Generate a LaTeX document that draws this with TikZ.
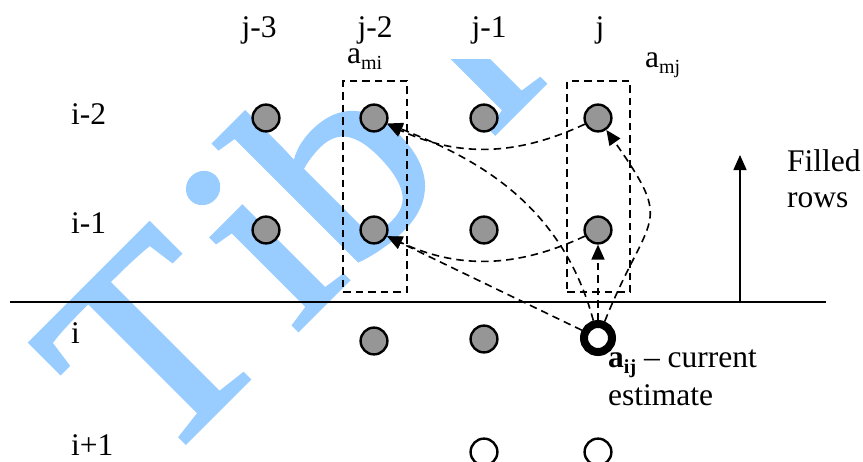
\documentclass[tikz,border=0pt]{standalone}
\usepackage{fontspec}
\setmainfont{Liberation Serif}
\newfontfamily\wmfont[FakeBold=1.5]{Liberation Serif}
\usetikzlibrary{arrows.meta}
\definecolor{wmblue}{RGB}{153,204,255}
\definecolor{dotgray}{RGB}{150,150,150}
\newcommand{\lowidx}[1]{\raisebox{-0.2em}{\fontsize{20}{20}\selectfont #1}}
\newcommand{\wmglyph}[1]{\wmfont\fontsize{275}{275}\selectfont\scalebox{1.06}[1]{#1}}
\begin{document}
\begin{tikzpicture}[x=1pt,y=1pt,
  dot/.style={circle,draw=black,line width=2.4pt,fill=dotgray,minimum size=26.8pt,inner sep=0pt},
  opendot/.style={circle,draw=black,line width=2.4pt,fill=white,minimum size=26.8pt,inner sep=0pt},
  curdot/.style={circle,draw=black,line width=8pt,fill=white,minimum size=28pt,inner sep=0pt},
  lbl/.style={font=\fontsize{31.5}{36}\selectfont,inner sep=0pt},
  dashline/.style={dash pattern=on 7.5pt off 5pt,line width=1.6pt},
  dep/.style={dashline,-{Triangle[length=15pt,width=13pt]}},
  dbox/.style={draw,dashline,inner sep=0pt},
  solidarrow/.style={line width=1.6pt,-{Triangle[length=15pt,width=13pt]}},
  wm/.style={anchor=base west,rotate=45,inner sep=0pt,text=wmblue},
]
\useasboundingbox (0,0) rectangle (863,-461);
% watermark
\begin{scope}
\clip (0,-59) rectangle (863,-461);
\node[wm] (wmT) at (154.2,-473.8) {\wmglyph{T}};
\node[wm] (wmI) at (294.2,-333.8) {\wmglyph{i}};
\node[wm] (wmB) at (349.4,-278.6) {\wmglyph{b}};
\node[wm] (wmJ) at (490.8,-137.3) {\wmglyph{i}};
\end{scope}
% dashed boxes
\node[dbox,minimum width=64pt,minimum height=211pt] (boxmi) at (375,-186.5) {};
\node[dbox,minimum width=63pt,minimum height=211pt] (boxmj) at (598.5,-186.5) {};
% separator line and filled rows arrow
\coordinate (hl) at (10,-302);
\coordinate (hr) at (826,-302);
\draw[line width=1.6pt] (hl) -- (hr);
\coordinate (fa) at (740,-302);
\coordinate (fb) at (740,-155);
\draw[solidarrow] (fa) -- (fb);
% dots
\node[dot] (m2j3) at (266,-118) {};
\node[dot] (m2j2) at (374,-118) {};
\node[dot] (m2j1) at (484,-118) {};
\node[dot] (m2j0) at (598,-118) {};
\node[dot] (m1j3) at (266,-230) {};
\node[dot] (m1j2) at (374,-230) {};
\node[dot] (m1j1) at (484,-230) {};
\node[dot] (m1j0) at (598,-230) {};
\node[dot] (z0j2) at (374,-341) {};
\node[dot] (z0j1) at (484,-339) {};
\node[curdot] (aij) at (598,-338) {};
\node[opendot] (p1j1) at (484,-452) {};
\node[opendot] (p1j0) at (598,-452) {};
% dependency arrows
\draw[dep] (aij) -- (m1j0);
\draw[dep] (aij) to[out=68,in=-55,looseness=1.6] (m2j0);
\draw[dep] (m2j0) to[out=205,in=-25] (m2j2);
\draw[dep] (m1j0) to[out=205,in=-25] (m1j2);
\draw[dep] (aij) -- (m1j2);
\draw[dep] (aij) to[out=105,in=-22,out distance=130pt,in distance=80pt] (m2j2);
% column labels
\node[lbl,anchor=base] (cj3) at (259,-37) {j-3};
\node[lbl,anchor=base] (cj2) at (375,-37) {j-2};
\node[lbl,anchor=base] (cj1) at (489,-37) {j-1};
\node[lbl,anchor=base] (cj0) at (600,-37) {j};
\node[lbl,anchor=base west] (lmi) at (347,-63) {a\lowidx{mi}};
\node[lbl,anchor=base west] (lmj) at (645,-67) {a\lowidx{mj}};
% row labels
\node[lbl,anchor=base west] (ri2) at (71,-124) {i-2};
\node[lbl,anchor=base west] (ri1) at (71,-233) {i-1};
\node[lbl,anchor=base west] (ri0) at (71,-343) {i};
\node[lbl,anchor=base west] (rip) at (71,-455) {i+1};
% right labels
\node[lbl,anchor=base west] (fill1) at (787,-171) {Filled};
\node[lbl,anchor=base west] (fill2) at (787,-207) {rows};
\node[lbl,anchor=base west] (cur1) at (608,-367) {\textbf{a\lowidx{ij}} – current};
\node[lbl,anchor=base west] (cur2) at (608,-405) {estimate};
\end{tikzpicture}
\end{document}
